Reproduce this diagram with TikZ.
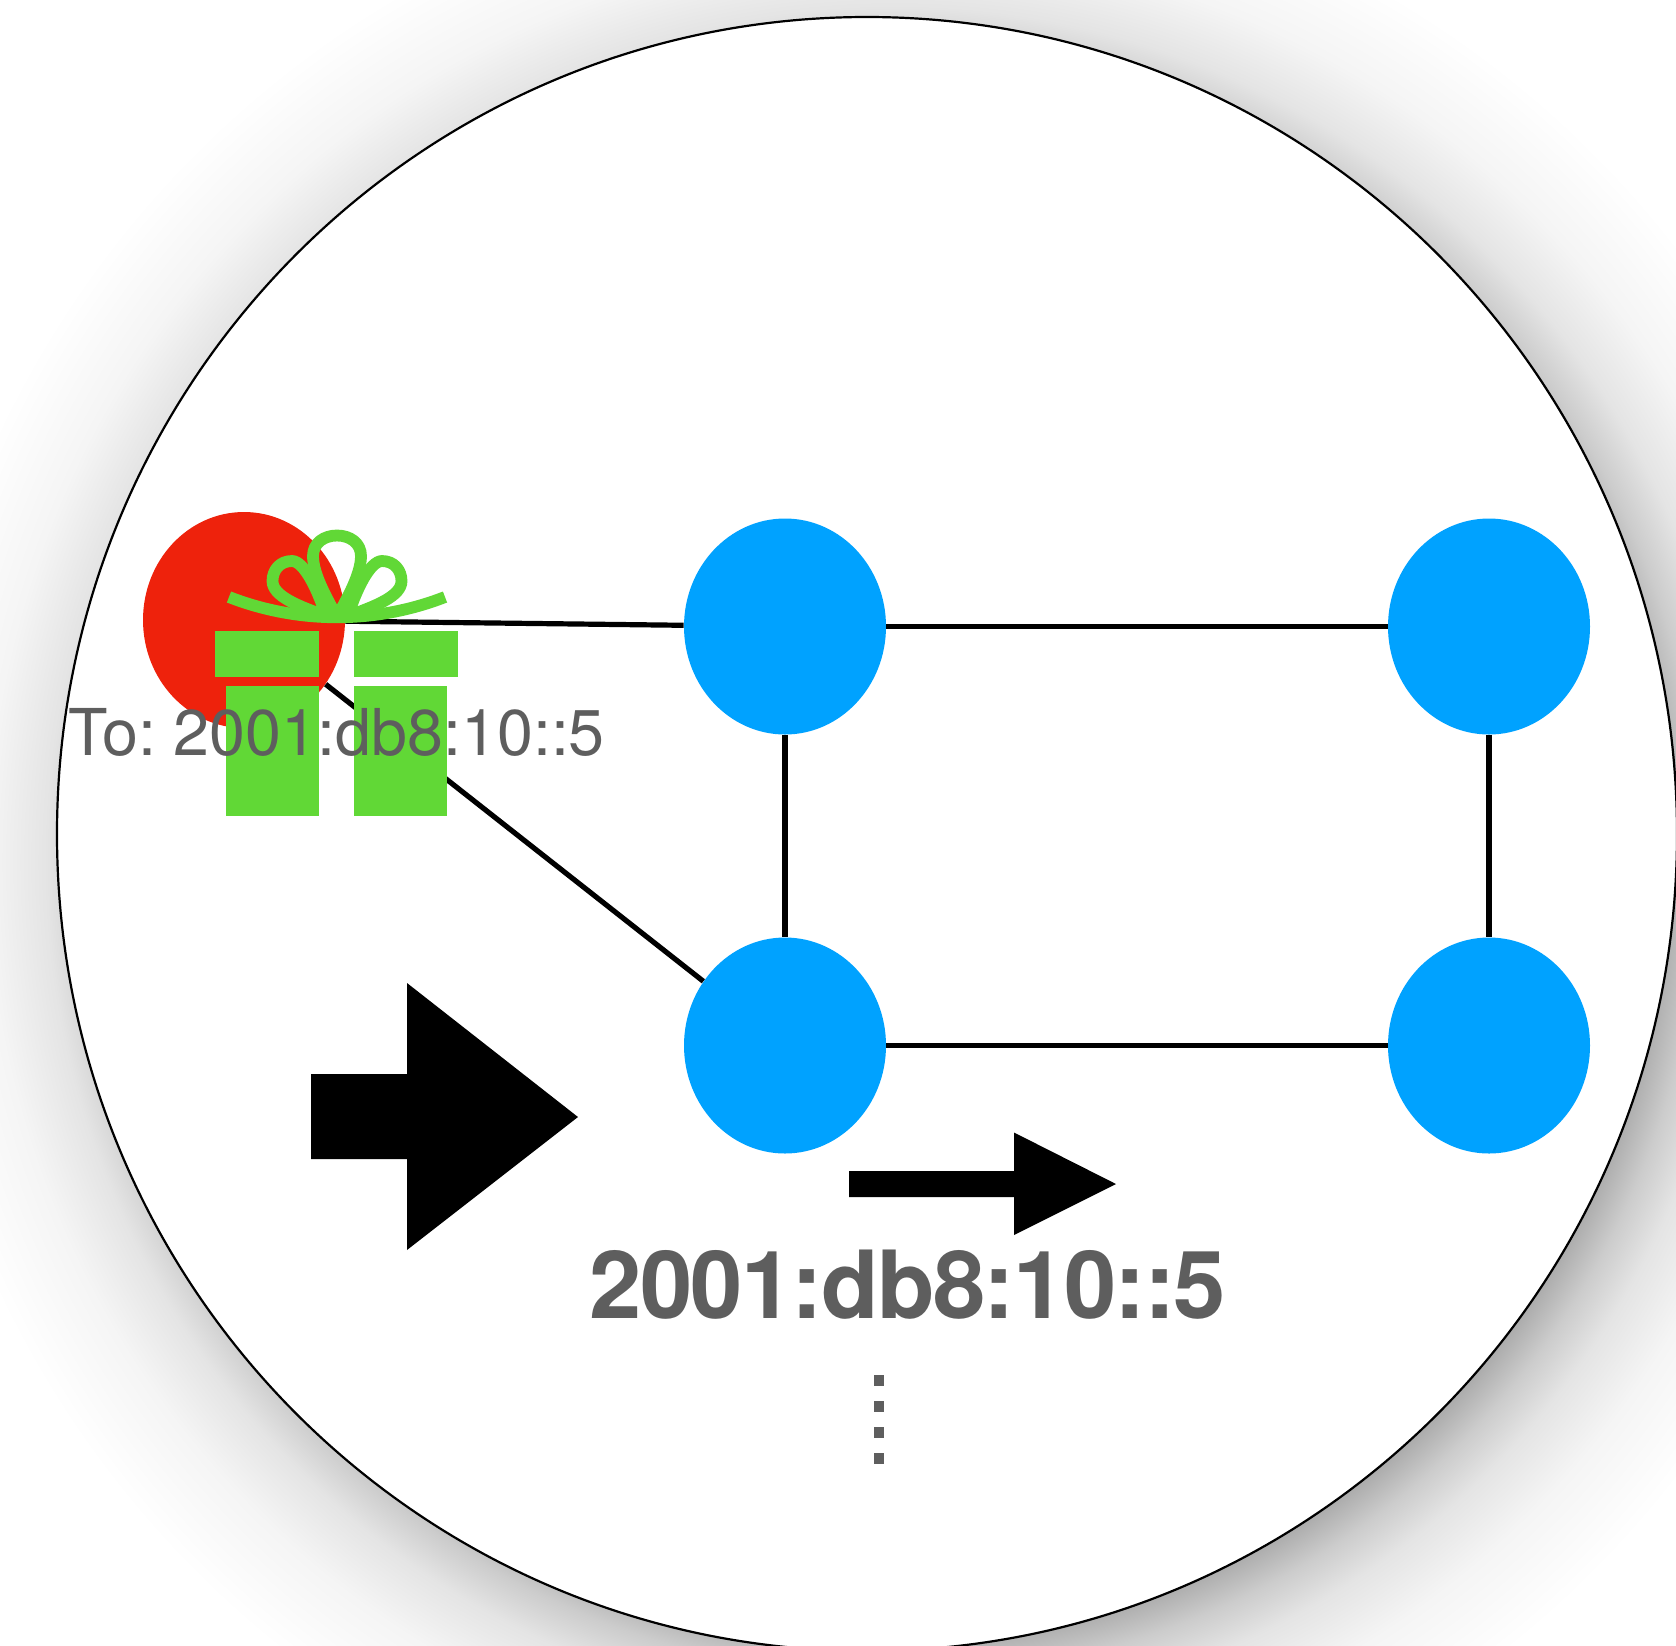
\documentclass[tikz,border=0pt]{standalone}
\usepackage{fontspec}
\setmainfont{TeX Gyre Heros}
\usetikzlibrary{shapes.geometric}
\definecolor{nodeblue}{HTML}{00A2FF}
\definecolor{nodered}{HTML}{EE220C}
\definecolor{giftgreen}{HTML}{61D836}
\definecolor{textgray}{HTML}{5E5E5E}
\pgfdeclareradialshading{discshadow}{\pgfpoint{0bp}{0bp}}{%
  rgb(0bp)=(.55,.55,.55);
  rgb(18bp)=(.58,.58,.58);
  rgb(19.3bp)=(.66,.66,.66);
  rgb(20.3bp)=(.80,.80,.80);
  rgb(21.3bp)=(.895,.895,.895);
  rgb(22.8bp)=(.96,.96,.96);
  rgb(25bp)=(1,1,1);
  rgb(50bp)=(1,1,1)}
\tikzset{
  px/.style={x=0.5pt,y=-0.5pt},
  blobnode/.style={ellipse,fill=nodeblue,draw=none,inner sep=0pt,minimum width=101pt,minimum height=108pt},
  rednode/.style={ellipse,fill=nodered,draw=none,inner sep=0pt,minimum width=101pt,minimum height=108pt},
  link/.style={draw=black,line width=2.6pt},
  ribbon/.style={draw=giftgreen,line width=5.9pt,line join=round},
  giftbox/.style={fill=giftgreen,draw=none},
  bigarrow/.style={fill=black,draw=none},
  lbl/.style={inner sep=0pt,anchor=base west,text=textgray},
  dotline/.style={draw=textgray,line width=5.4pt,dash pattern=on 5.4pt off 7.6pt}
}
\begin{document}
\begin{tikzpicture}[px]
\useasboundingbox (0,0) rectangle (1676,1645);
\begin{scope}
\clip (0,0) rectangle (1676,1645);
\fill[white] (0,0) rectangle (1676,1645);
% soft shadow of the disc
\shade[shading=discshadow] (894,862) ellipse [x radius=995,y radius=1003];
% disc
\draw[fill=white,draw=black,line width=1.1pt] (867,834) ellipse [x radius=810,y radius=817];
% nodes
\node[rednode]  (src) at (244,620) {};
\node[blobnode] (tl) at (785,626.5) {};
\node[blobnode] (tr) at (1489,626.5) {};
\node[blobnode] (bl) at (785,1045.5) {};
\node[blobnode] (br) at (1489,1045.5) {};
% links
\draw[link] (src) -- (tl);
\draw[link] (src) -- (bl);
\draw[link] (tl) -- (tr);
\draw[link] (tl) -- (bl);
\draw[link] (tr) -- (br);
\draw[link] (bl) -- (br);
% gift
\fill[giftbox] (215,631) rectangle (319,677);
\fill[giftbox] (354,631) rectangle (458,677);
\fill[giftbox] (226,686) rectangle (319,816);
\fill[giftbox] (354,686) rectangle (447,816);
\draw[ribbon] (229,597) .. controls (298,624) and (376,624) .. (445,597);
\draw[ribbon] (337,617) .. controls (328,600) and (313,575) .. (313,556) .. controls (313,543) and (324,535.5) .. (337,535.5) .. controls (350,535.5) and (361,543) .. (361,556) .. controls (361,575) and (346,600) .. (337,617);
\draw[ribbon] (326,616) .. controls (318,590) and (304,561) .. (292,561) .. controls (280,561) and (272.5,570) .. (272.5,581) .. controls (272.5,596) and (298,606) .. (326,616);
\draw[ribbon] (348,616) .. controls (356,590) and (370,561) .. (382,561) .. controls (394,561) and (401.5,570) .. (401.5,581) .. controls (401.5,596) and (376,606) .. (348,616);
% arrows
\fill[bigarrow] (311,1074) -- (407,1074) -- (407,983) -- (578,1117) -- (407,1250) -- (407,1159) -- (311,1159) -- cycle;
\fill[bigarrow] (849,1171) -- (1014,1171) -- (1014,1132.5) -- (1116,1184) -- (1014,1235) -- (1014,1197) -- (849,1197) -- cycle;
% labels
\node[lbl,font=\fontsize{32.3}{38}\selectfont\frenchspacing] (tolabel) at (68,755) {To: 2001:db8:10::5};
\node[lbl,font=\fontsize{47}{52}\selectfont\bfseries\addfontfeature{LetterSpace=-1.75}] (addr) at (589,1318.5) {2001:db8:10::5};
\coordinate (dotsa) at (879,1375);
\coordinate (dotsb) at (879,1465);
\draw[dotline] (dotsa) -- (dotsb);
\end{scope}
\end{tikzpicture}
\end{document}
